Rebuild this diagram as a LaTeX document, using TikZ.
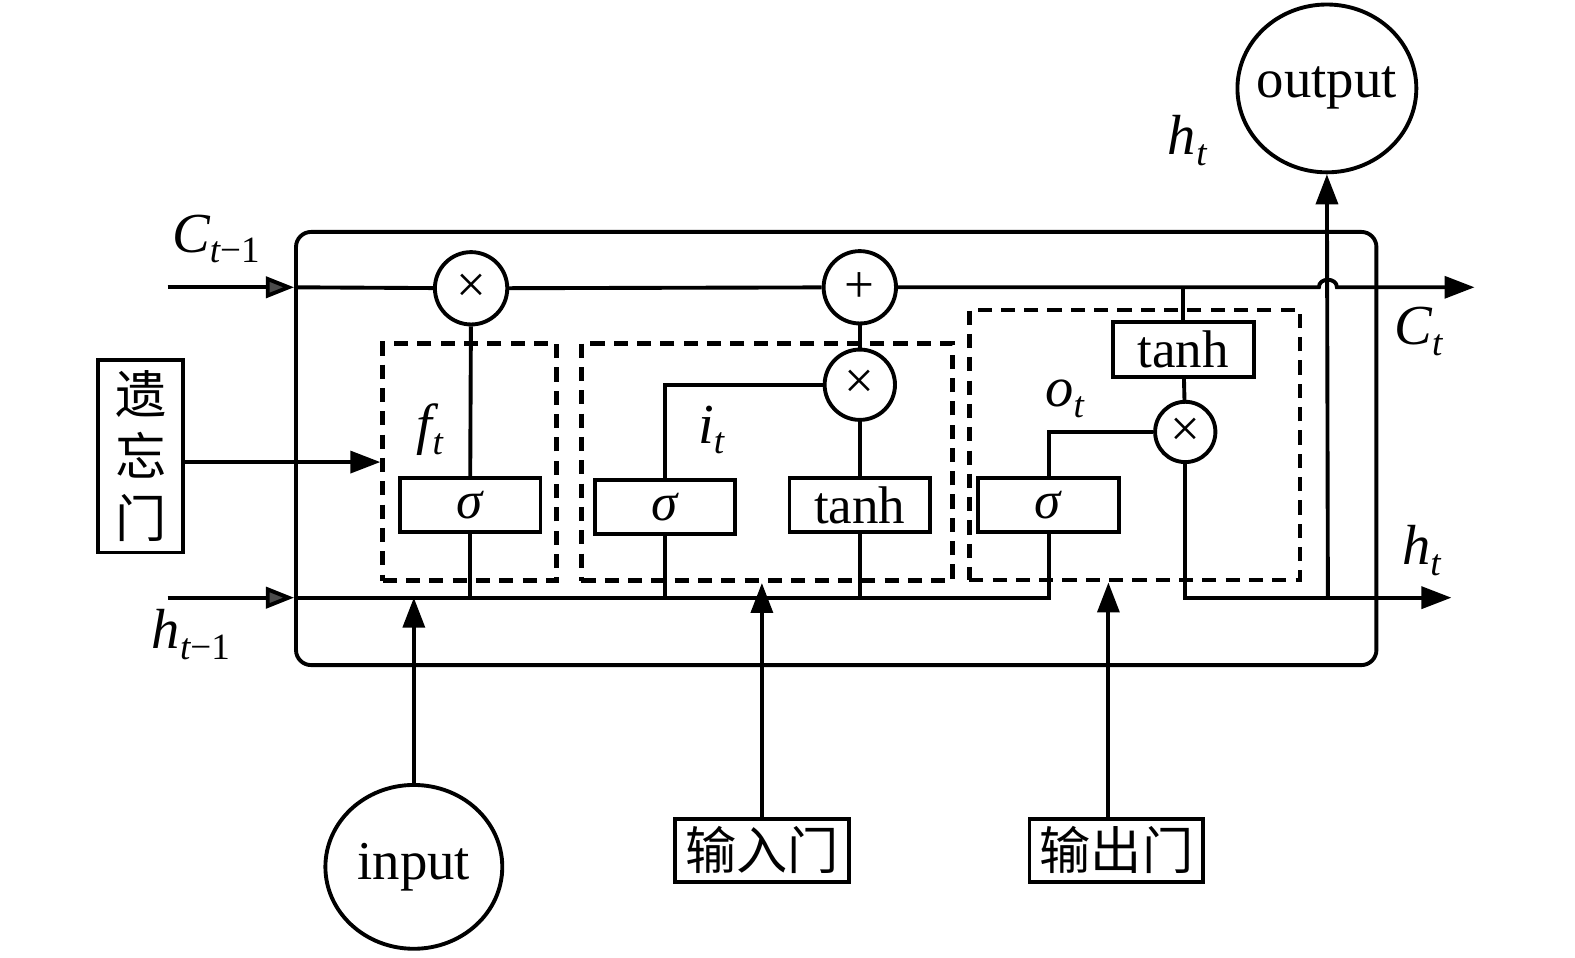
\documentclass[tikz,border=0pt]{standalone}
\usepackage{fontspec}
\setmainfont{Liberation Serif}
\newfontfamily\cjk{Noto Sans CJK SC}
\usetikzlibrary{arrows.meta,shapes.geometric}
% variable with subscript, e.g. C_{t-1}
\newcommand\lvar[3]{{\itshape #1}\raisebox{-3pt}{\fontsize{10.5}{12}\selectfont\itshape #2\upshape #3}}

\begin{document}
\begin{tikzpicture}[x=0.01cm,y=-0.01cm,line width=1.1pt,
 op/.style={circle,draw,minimum size=7.2mm,inner sep=0pt,font=\fontsize{15}{15}\selectfont},
 fn/.style={draw,minimum width=14mm,minimum height=5.4mm,inner sep=0pt,font=\fontsize{15}{15}\selectfont},
 gate/.style={draw,line width=1.3pt,dash pattern=on 4pt off 2.6pt,inner sep=0pt},
 tag/.style={draw,inner sep=0pt,font=\cjk\fontsize{14.5}{17.5}\selectfont},
 io/.style={ellipse,draw,inner sep=0pt,font=\fontsize{15.5}{15.5}\selectfont},
 lab/.style={inner sep=0pt,font=\fontsize{16}{16}\selectfont},
 ar/.style={-{Triangle[length=8.5pt,width=6.2pt]}},
 ari/.style={-{Triangle[length=8pt,width=6pt,fill=black!70]}}]
 \useasboundingbox (0,0) rectangle (1568,953);
 % cell frame
 \node[draw,rounded corners=1.5mm,minimum width=10.75cm,minimum height=4.31cm] (cell) at (832.5,446.5) {};
 % gate regions
 \node[gate,minimum width=1.73cm,minimum height=2.36cm] (fb) at (467.5,460) {};
 \node[gate,minimum width=3.69cm,minimum height=2.36cm] (ib) at (763.5,460) {};
 \node[gate,minimum width=3.29cm,minimum height=2.69cm] (ob) at (1129.5,443) {};
 % operators
 \node[op] (fx) at (469,287) {×};
 \node[op] (pl) at (856,286) {+};
 \node[op,minimum size=7mm] (ix) at (856,383) {×};
 \node[op,minimum size=6mm] (ox) at (1180,430) {×};
 % activation boxes
 \node[fn] (fs) at (468,503) {\textit{σ}};
 \node[fn] (is) at (662,505) {\textit{σ}};
 \node[fn] (it) at (856,503) {tanh};
 \node[fn] (os) at (1044,503) {\textit{σ}};
 \node[fn] (ot) at (1178,348) {tanh};
 % outside nodes
 \node[tag,minimum width=8.4mm,minimum height=19.2mm,align=center] (fg) at (140,454) {遗\\忘\\门};
 \node[tag,minimum width=17.3mm,minimum height=6.3mm] (ig) at (758.5,846.5) {输入门};
 \node[tag,minimum width=17.3mm,minimum height=6.3mm] (og) at (1111.5,846.5) {输出门};
 \node[io,minimum width=17.6mm,minimum height=16.3mm] (in) at (412,863) {\makebox[0pt]{input}};
 \node[io,minimum width=17.8mm,minimum height=16.7mm] (out) at (1321,88) {\makebox[0pt]{output}};
 % labels
 \node[lab] (lc0) at (215,238) {\lvar{C}{t}{−1}};
 \node[lab] (lh0) at (190,632) {\lvar{h}{t}{−1}};
 \node[lab] (lc1) at (1412,330) {\lvar{C}{t}{}};
 \node[lab] (lh1) at (1415,548) {\lvar{h}{t}{}};
 \node[lab] (lh2) at (1182,140) {\lvar{h}{t}{}};
 \node[lab] (lf) at (428,428) {\lvar{f}{t}{}};
 \node[lab] (li) at (708,428) {\lvar{i}{t}{}};
 \node[lab] (lo) at (1060,397) {\lvar{o}{t}{}};
 % ends
 \coordinate (Cin) at (167,286);
 \coordinate (hin) at (167,595);
 \coordinate (Cout) at (1468,286);
 \coordinate (hout) at (1445,595);
 \coordinate (cl) at (Cin -| cell.west);
 \coordinate (hl) at (hin -| cell.west);
 \coordinate (hj) at (1322,595);
 % cell state
 \draw[ari] (Cin) -- (cl);
 \draw (cl) -- (fx) -- (pl);
 \draw[ar] (pl) -- (1313,286) .. controls (1313,276) and (1331,276) .. (1331,286) -- (Cout);
 % hidden state
 \draw[ari] (hin) -- (hl);
 \draw (hl) -| (os.south);
 \foreach \n in {fs,is,it} \draw (\n.south) -- (\n.south |- hl);
 % gates
 \draw (fs) -- (fx);
 \draw (is.north) |- (ix.west);
 \draw (it) -- (ix) -- (pl);
 \draw (os.north) |- (ox.west);
 \draw (ot.north) -- (ot.north |- pl);
 \draw (ot) -- (ox);
 \draw[ar] (ox.south) |- (hout);
 \draw[ar] (hj) -- (out.south);
 % controls
 \draw[ar] (fg.east |- fb.west) -- (fb.west);
 \draw[ar] (in.north) -- (in.north |- hl);
 \draw[ar] (ig.north) -- (ig.north |- ib.south);
 \draw[ar] ([xshift=-0.08cm]og.north) -- ([xshift=-0.08cm]og.north |- ob.south);
\end{tikzpicture}
\end{document}
